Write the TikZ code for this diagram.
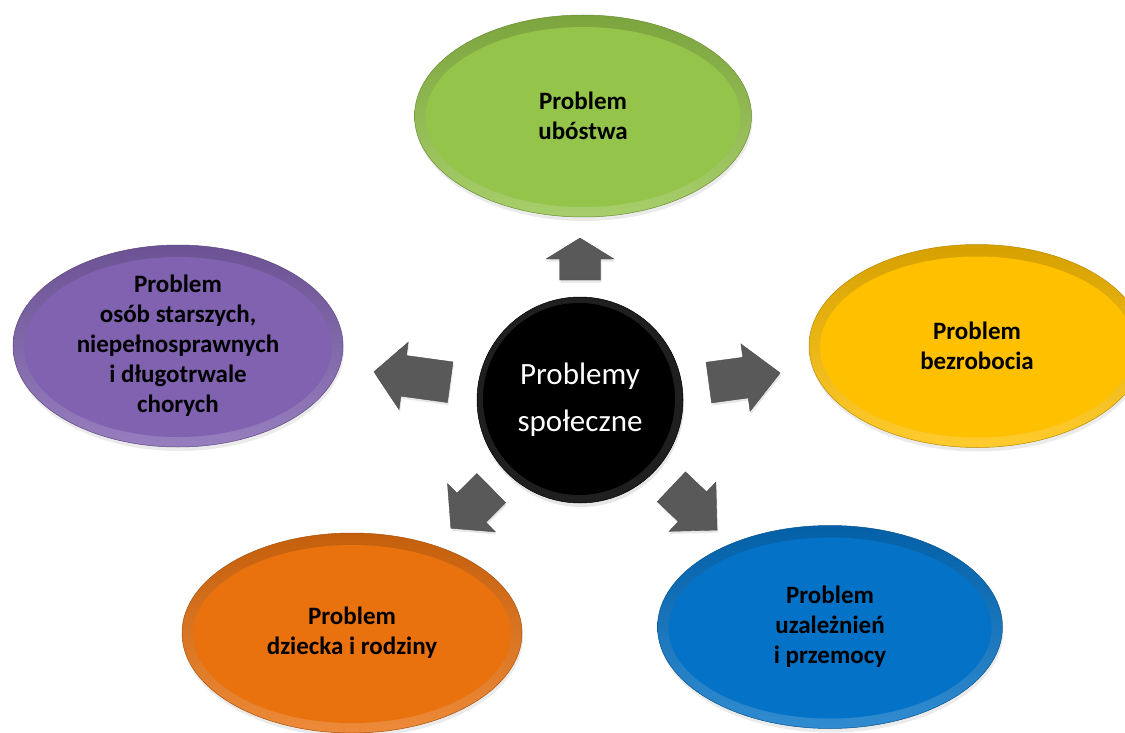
\documentclass[tikz,border=0pt]{standalone}
\usepackage{fontspec}
\setmainfont{Carlito}
\usetikzlibrary{shapes.geometric,shadows,calc}
\definecolor{cGreen}{RGB}{148,196,74}
\definecolor{cYellow}{RGB}{255,192,0}
\definecolor{cPurple}{RGB}{128,98,176}
\definecolor{cOrange}{RGB}{233,113,14}
\definecolor{cBlue}{RGB}{4,114,198}
\definecolor{cArrow}{RGB}{89,89,89}
\tikzset{
  bubble/.style n args={3}{ellipse, inner sep=0pt, outer sep=0pt, align=center, text=black,
    font=\bfseries\fontsize{25}{30}\selectfont,
    minimum width=#2pt, minimum height=#3pt,
    draw=#1!72!black, line width=0.5pt,
    top color=#1!84!black, bottom color=#1!82!white,
    drop shadow={shadow xshift=1pt, shadow yshift=-4pt, opacity=0.16},
    path picture={\fill[#1] ($(path picture bounding box.center)+(0,1)$) ellipse [x radius={#2/2*1pt-11pt}, y radius={#3/2*1pt-11pt}];}},
  hub/.style={circle, inner sep=0pt, minimum size=206pt, fill=black!88, draw=black, line width=0.5pt,
    text=white, align=center, font=\fontsize{31}{47}\selectfont,
    drop shadow={shadow xshift=1pt, shadow yshift=-4pt, opacity=0.2},
    path picture={\fill[black] ($(path picture bounding box.center)+(-1,-1)$) circle [radius=96pt];}},
  blockarrowstyle/.style={fill=cArrow, draw=cArrow!85!black, line width=0.4pt, line join=miter,
    drop shadow={shadow xshift=1pt, shadow yshift=-2.5pt, opacity=0.2}}
}
% angle, shaft start, head base, tip (distances from the hub centre)
\newcommand\blockarr[4]{%
  \fill[blockarrowstyle]
    ($(c)+(#1:#2)+(#1+90:20.5)$) -- ($(c)+(#1:#3)+(#1+90:20.5)$) --
    ($(c)+(#1:#3)+(#1+90:34)$) -- ($(c)+(#1:#4)$) --
    ($(c)+(#1:#3)+(#1-90:34)$) -- ($(c)+(#1:#3)+(#1-90:20.5)$) --
    ($(c)+(#1:#2)+(#1-90:20.5)$) -- cycle;}
\begin{document}
\begin{tikzpicture}[x=1pt,y=-1pt]
\useasboundingbox (0,0) rectangle (1125,733);
\clip (0,0) rectangle (1125,733);

\node[bubble={cGreen}{337}{202}] (g) at (583,116) {Problem\\ubóstwa};
\node[bubble={cYellow}{336}{203}] (y) at (977,346) {Problem\\bezrobocia};
\node[bubble={cPurple}{330}{202}] (p) at (178,346) {Problem\\osób starszych,\\niepełnosprawnych\\i długotrwale\\chorych};
\node[bubble={cOrange}{340}{200}] (o) at (352,633) {Problem\\dziecka i rodziny};
\node[bubble={cBlue}{345}{203}] (b) at (830,627) {Problem\\uzależnień\\i przemocy};

\coordinate (c) at (580,400);
\blockarr{-90}{120}{141}{162}
\blockarr{-7.7}{130}{167}{202}
\blockarr{187.8}{131}{178}{208}
\blockarr{135.2}{125}{153}{182}
\blockarr{43.5}{126}{155}{189}

\node[hub] (hubnode) at (c) {Problemy\\społeczne};
\end{tikzpicture}
\end{document}
